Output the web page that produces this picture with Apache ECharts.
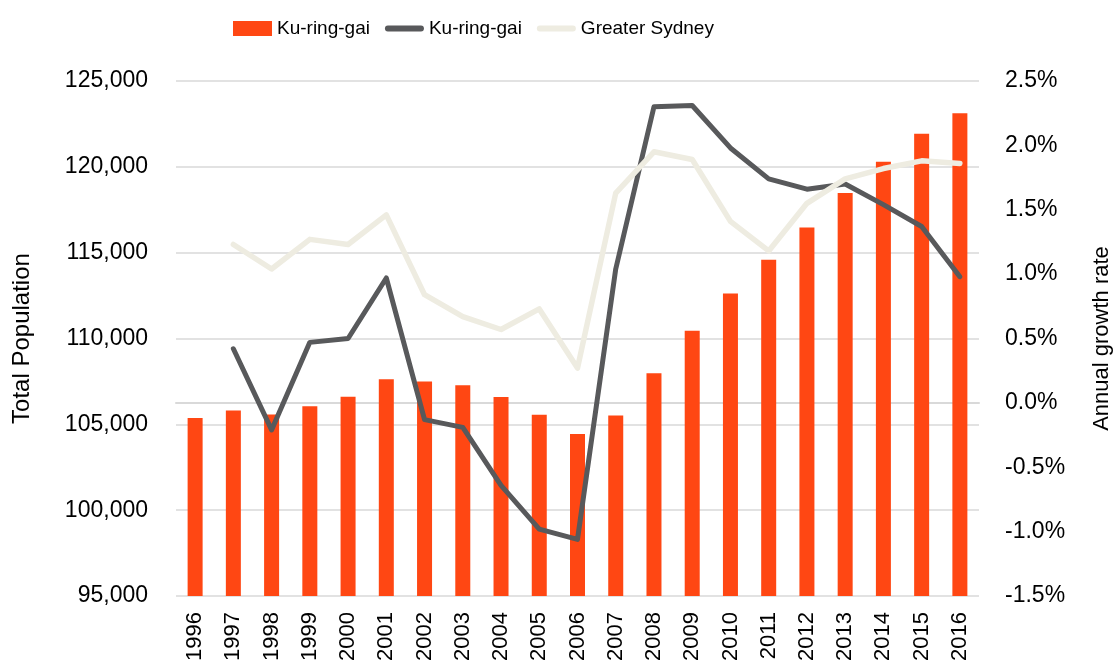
<!DOCTYPE html>
<html>
<head>
<meta charset="utf-8">
<title>Ku-ring-gai population</title>
<script src="https://cdn.jsdelivr.net/npm/echarts@6/dist/echarts.min.js"></script>
<style>
    html, body { margin: 0; padding: 0; background: #fff; }
    #main { width: 1119px; height: 664px; }
</style>
</head>
<body>
<div id="main"></div>
<script>
// 数据
let years = ['1996', '1997', '1998', '1999', '2000', '2001', '2002', '2003', '2004', '2005', '2006',
    '2007', '2008', '2009', '2010', '2011', '2012', '2013', '2014', '2015', '2016'];
let population = [105370, 105810, 105580, 106060, 106610, 107620, 107500, 107270, 106590, 105560, 104440,
    105520, 107970, 110450, 112620, 114590, 116470, 118470, 120290, 121920, 123120];
let kuGrowth = [null, 0.42, -0.21, 0.47, 0.50, 0.97, -0.13, -0.19, -0.64, -0.98, -1.06,
    1.04, 2.30, 2.31, 1.98, 1.74, 1.66, 1.70, 1.54, 1.37, 0.98];
let sydGrowth = [null, 1.23, 1.04, 1.27, 1.23, 1.46, 0.84, 0.67, 0.57, 0.73, 0.27,
    1.63, 1.95, 1.89, 1.41, 1.18, 1.55, 1.74, 1.82, 1.88, 1.86];

let font = "'Liberation Sans', Arial, sans-serif";
// 图例里的线条图标（圆头粗线）
let lineIcon = 'path://M3,0 L37,0 A3,3 0 0 1 37,6 L3,6 A3,3 0 0 1 3,0 Z';

let myChart = echarts.init(document.getElementById('main'));

let option = {
    backgroundColor: '#fff',
    animation: false,
    textStyle: { fontFamily: font, color: '#000' },
    legend: {
        left: 228,
        top: 14,
        itemWidth: 39,
        itemHeight: 15,
        itemGap: 15,
        textStyle: { fontSize: 19, fontFamily: font, color: '#000' },
        data: [
            { name: 'Ku-ring-gai', icon: 'rect' },
            { name: 'Ku-ring-gai\u200b', icon: lineIcon },
            { name: 'Greater Sydney', icon: lineIcon }
        ]
    },
    grid: {
        left: 176,
        right: 140,
        top: 81,
        bottom: 68,
        containLabel: false,
        outerBoundsMode: 'none'
    },
    xAxis: {
        type: 'category',
        data: years,
        axisLine: { lineStyle: { color: '#d9d9d9', width: 2 } },
        axisTick: { show: false },
        axisLabel: {
            rotate: 90,
            margin: 16,
            fontSize: 22,
            fontFamily: font,
            color: '#000'
        }
    },
    yAxis: [{
        type: 'value',
        name: 'Total Population',
        nameLocation: 'middle',
        nameRotate: 90,
        nameGap: 142,
        nameTextStyle: { fontSize: 24, fontFamily: font, color: '#000' },
        min: 95000,
        max: 125000,
        interval: 5000,
        axisLine: { show: false },
        axisTick: { show: false },
        splitLine: { lineStyle: { color: '#d9d9d9', width: 1.5 } },
        axisLabel: {
            margin: 28,
            fontSize: 23,
            fontFamily: font,
            color: '#000',
            formatter: function(v) {
                return v.toLocaleString('en-US');
            }
        }
    }, {
        type: 'value',
        name: 'Annual growth rate',
        nameLocation: 'middle',
        nameRotate: 90,
        nameGap: 112,
        nameTextStyle: { fontSize: 22, fontFamily: font, color: '#000' },
        min: -1.5,
        max: 2.5,
        interval: 0.5,
        axisLine: { show: false },
        axisTick: { show: false },
        splitLine: { show: false },
        axisLabel: {
            margin: 26,
            fontSize: 23,
            fontFamily: font,
            color: '#000',
            formatter: function(v) {
                return v.toFixed(1) + '%';
            }
        }
    }],
    series: [{
        name: 'Ku-ring-gai',
        type: 'bar',
        barWidth: 15,
        itemStyle: { color: '#ff4713' },
        data: population
    }, {
        name: 'Ku-ring-gai\u200b',
        type: 'line',
        yAxisIndex: 1,
        symbol: 'none',
        itemStyle: { color: '#58595b' },
        lineStyle: { color: '#58595b', width: 5, cap: 'round', join: 'round' },
        data: kuGrowth
    }, {
        name: 'Greater Sydney',
        type: 'line',
        yAxisIndex: 1,
        symbol: 'none',
        itemStyle: { color: '#eeece1' },
        lineStyle: { color: '#eeece1', width: 5.5, cap: 'round', join: 'round' },
        data: sydGrowth
    }]
};

myChart.setOption(option);
</script>
</body>
</html>
